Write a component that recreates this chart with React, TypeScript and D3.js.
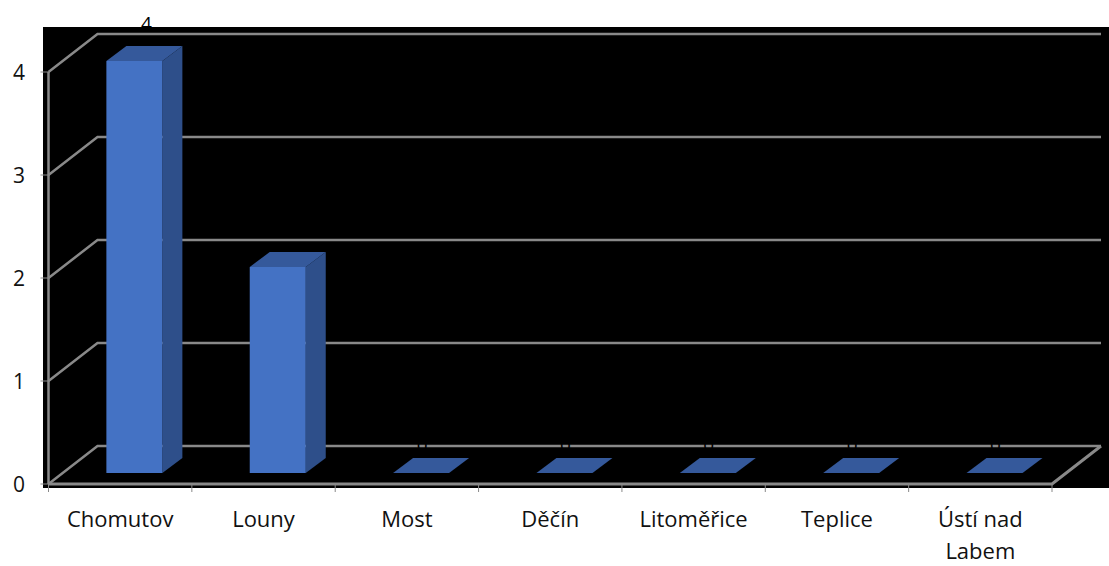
import React, { useEffect, useRef } from 'react';
import * as d3 from 'd3';

// Districts and counts
const categories = ['Chomutov', 'Louny', 'Most', 'Děčín', 'Litoměřice', 'Teplice', 'Ústí nad Labem'];
const values = [4, 2, 0, 0, 0, 0, 0];
const yTicks = [0, 1, 2, 3, 4];

const W = 1109;
const H = 566;
const FONT = '"Open Sans", sans-serif';

export default function App() {
  const ref = useRef<SVGSVGElement>(null);

  useEffect(() => {
    const svg = d3.select(ref.current);
    svg.selectAll('*').remove();

    const x = d3.scaleBand<string>().domain(categories).range([48.5, 1052]).padding(0);
    const y = d3.scaleLinear().domain([0, 4]).range([484, 72]);

    // depth of the 3D box (back wall offset) and of each bar
    const wall = { dx: 49, dy: -38 };
    const barShift = { dx: 14.2, dy: -11 };
    const barDepth = { dx: 20, dy: -15 };
    const barW = 56;

    const grid = '#898989';

    // plot area
    svg.append('rect').attr('x', 43).attr('y', 27).attr('width', W - 43).attr('height', 461).attr('fill', '#000');

    const x0 = x.range()[0];
    const x1 = x.range()[1];

    // back wall gridlines + side wall diagonals
    const g = svg.append('g').attr('stroke', grid).attr('fill', 'none').attr('stroke-width', 2.5);
    yTicks.forEach((t) => {
      const yf = y(t);
      const yb = yf + wall.dy;
      g.append('path').attr('d', `M${x0},${yf}L${x0 + wall.dx},${yb}L${x1 + wall.dx},${yb}`);
    });
    // floor front/right edges and vertical axis
    g.append('path').attr('d', `M${x0},${y(0)}L${x1},${y(0)}L${x1 + wall.dx},${y(0) + wall.dy}`).attr('stroke-width', 3);
    g.append('line').attr('x1', x0).attr('x2', x0).attr('y1', y(4)).attr('y2', y(0));

    // y ticks and labels
    const ya = svg.append('g');
    yTicks.forEach((t) => {
      ya.append('line').attr('x1', x0 - 8).attr('x2', x0).attr('y1', y(t)).attr('y2', y(t)).attr('stroke', grid).attr('stroke-width', 1);
      ya.append('text').attr('x', 25).attr('y', y(t)).attr('dy', '0.36em').attr('text-anchor', 'end')
        .attr('font-family', FONT).attr('font-size', 21).attr('fill', '#111').text(String(t));
    });

    // x ticks
    const xa = svg.append('g');
    [...categories.map((c) => x(c) as number), x1].forEach((px) => {
      xa.append('line').attr('x1', px).attr('x2', px).attr('y1', y(0)).attr('y2', y(0) + 8).attr('stroke', grid).attr('stroke-width', 1);
    });

    // category labels, wrapped to the band width
    categories.forEach((c) => {
      const cx = (x(c) as number) + x.bandwidth() / 2;
      const text = xa.append('text').attr('x', cx).attr('y', 527).attr('text-anchor', 'middle')
        .attr('font-family', FONT).attr('font-size', 22).attr('fill', '#111');
      const words = c.split(' ');
      let line: string[] = [];
      let lineNo = 0;
      let tspan = text.append('tspan').attr('x', cx).attr('y', 527);
      words.forEach((w) => {
        line.push(w);
        tspan.text(line.join(' '));
        if ((tspan.node() as SVGTSpanElement).getComputedTextLength() > x.bandwidth() - 6 && line.length > 1) {
          line.pop();
          tspan.text(line.join(' '));
          line = [w];
          lineNo += 1;
          tspan = text.append('tspan').attr('x', cx).attr('y', 527 + lineNo * 32).text(w);
        }
      });
    });

    // bars
    const front = '#4472C4';
    const side = '#2E4F8A';
    const top = '#35599B';
    const bars = svg.append('g');
    categories.forEach((c, i) => {
      const v = values[i];
      const left = (x(c) as number) + (x.bandwidth() - barW) / 2 + barShift.dx;
      const right = left + barW;
      const bottom = y(0) + barShift.dy;
      const ty = y(v) + barShift.dy;
      const { dx, dy } = barDepth;
      if (v > 0) {
        bars.append('path').attr('fill', side)
          .attr('d', `M${right},${bottom}L${right + dx},${bottom + dy}L${right + dx},${ty + dy}L${right},${ty}Z`);
        bars.append('rect').attr('x', left).attr('y', ty).attr('width', barW).attr('height', bottom - ty).attr('fill', front);
      }
      bars.append('path').attr('fill', top)
        .attr('d', `M${left},${ty}L${right},${ty}L${right + dx},${ty + dy}L${left + dx},${ty + dy}Z`);

      // value label
      const fc = left + barW / 2;
      bars.append('text')
        .attr('x', v > 0 ? fc + 12 : fc + 1)
        .attr('y', v > 0 ? ty - 31 : 452)
        .attr('text-anchor', 'middle')
        .attr('font-family', FONT).attr('font-size', 19).attr('fill', '#000')
        .text(String(v));
    });
  }, []);

  return (
    <svg ref={ref} width={W} height={H}
      style={{ position: 'absolute', left: 0, top: 0, display: 'block', background: '#fff' }} />
  );
}
